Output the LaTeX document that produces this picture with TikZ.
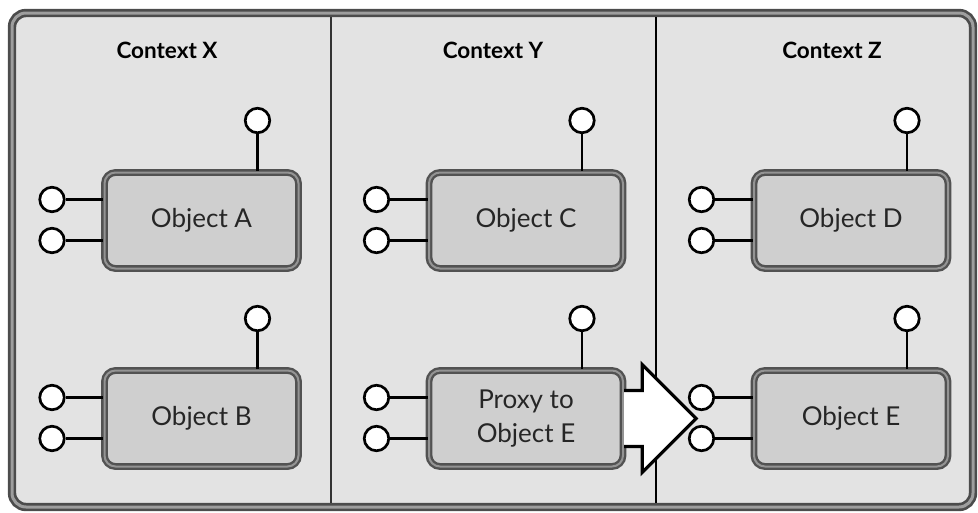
\documentclass[tikz,border=0pt]{standalone}
\usepackage{fontspec}
\setmainfont{Lato}
\usetikzlibrary{calc}
\begin{document}
\begin{tikzpicture}[x=1pt,y=-1pt,
  frameline/.style={draw=black!70, double=black!38, double distance=3pt, line width=2.7pt},
  objbox/.style={rectangle, rounded corners=11pt, fill=black!19, draw=black!68,
    double=black!42, double distance=2pt, line width=2.4pt,
    minimum width=194pt, minimum height=96pt, inner sep=0pt, align=center,
    font=\fontsize{26}{34}\selectfont, text=black!85},
  port/.style={circle, draw=black, line width=2.7pt, fill=white, minimum size=24.5pt, inner sep=0pt},
  stem/.style={draw=black, line width=2.7pt},
  divider/.style={draw=black, line width=2.7pt},
  bigarrow/.style={draw=black, line width=3.2pt, fill=white, line join=miter},
  ctxtitle/.style={font=\bfseries\fontsize{22.5}{26}\selectfont, text=black}
]
\useasboundingbox (0,0) rectangle (978,512);

% outer frame
\draw[frameline, fill=black!11, rounded corners=14pt] (12,13) rectangle (973,507);

% context separators
\coordinate (xyT) at (331,17);  \coordinate (xyB) at (331,503);
\coordinate (yzT) at (656,17);  \coordinate (yzB) at (656,503);
\draw[divider, draw=black!80] (xyT) -- (xyB);
\draw[divider] (yzT) -- (yzB);

% context titles
\node[ctxtitle] (tX) at (167,50) {Context X};
\node[ctxtitle] (tY) at (493,50) {Context Y};
\node[ctxtitle] (tZ) at (832,50) {Context Z};

% objects
\node[objbox] (A) at (201.5,220.5) {Object A};
\node[objbox] (B) at (201.5,418.5) {Object B};
\node[objbox] (C) at (526,220.5) {Object C};
\node[objbox] (P) at (526,418.5) {Proxy to\\Object E};
\node[objbox] (D) at (851,220.5) {Object D};
\node[objbox] (E) at (851,418.5) {Object E};

% forwarding arrow from the proxy to the real object
\draw[bigarrow] ($(P.east)+(0,-28)$) -- ($(P.east)+(18,-28)$) -- ($(P.east)+(18,-54)$)
  -- ($(P.east)+(72,0)$) -- ($(P.east)+(18,54)$) -- ($(P.east)+(18,28)$) -- ($(P.east)+(0,28)$);

% interface ports: two on the left, one on top
\foreach \o in {A,B,C,P,D,E}{
  \node[port] (\o l1) at ($(\o.center)+(-149.5,-21)$) {};
  \node[port] (\o l2) at ($(\o.center)+(-149.5,20)$) {};
  \node[port] (\o t)  at ($(\o.center)+(56,-100)$) {};
  \draw[stem] (\o l1) -- (\o l1 -| \o.west);
  \draw[stem] (\o l2) -- (\o l2 -| \o.west);
  \draw[stem] (\o t) -- (\o t |- \o.north);
}
\end{tikzpicture}
\end{document}
